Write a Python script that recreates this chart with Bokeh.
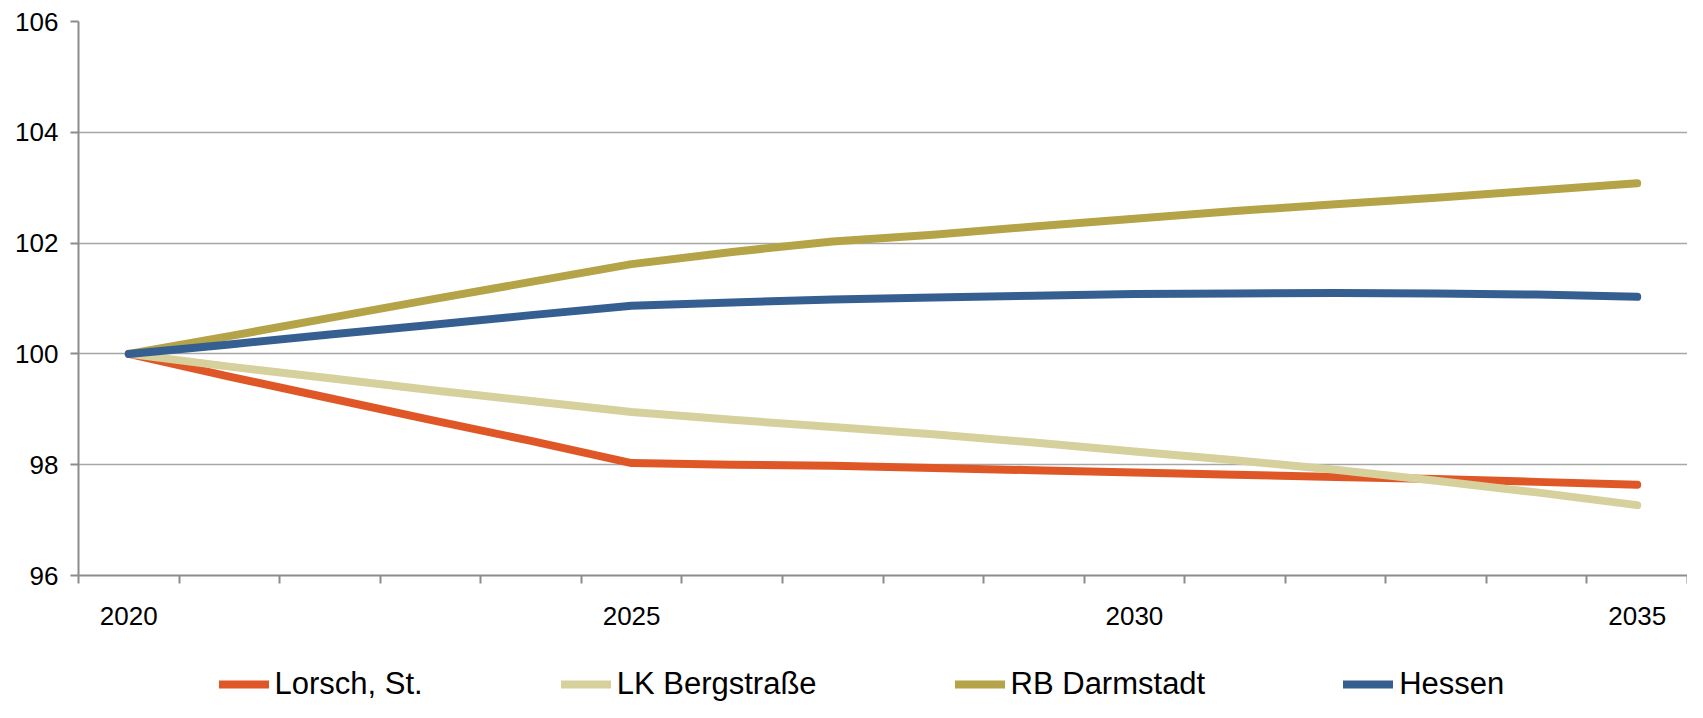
from bokeh.plotting import figure
from bokeh.models import Range1d, FixedTicker, Legend, LegendItem
from bokeh.layouts import column
from bokeh.embed import file_html
from bokeh.resources import INLINE

years = list(range(2020, 2036))
lorsch = [100.0, 99.59, 99.20, 98.81, 98.43, 98.03, 98.00, 97.98, 97.94, 97.90,
          97.86, 97.82, 97.78, 97.74, 97.69, 97.64]
lk_bergstrasse = [100.0, 99.77, 99.56, 99.35, 99.15, 98.95, 98.81, 98.68, 98.55, 98.40,
                  98.24, 98.08, 97.91, 97.71, 97.50, 97.27]
rb_darmstadt = [100.0, 100.32, 100.65, 100.98, 101.30, 101.62, 101.84, 102.03, 102.15, 102.30,
                102.44, 102.58, 102.70, 102.82, 102.95, 103.08]
hessen = [100.0, 100.17, 100.35, 100.52, 100.70, 100.87, 100.93, 100.98, 101.02, 101.05,
          101.08, 101.09, 101.10, 101.09, 101.07, 101.03]

series_names = ["Lorsch, St.", "LK Bergstraße", "RB Darmstadt", "Hessen"]
series_values = [lorsch, lk_bergstrasse, rb_darmstadt, hessen]
colors = ["#DF5726", "#D6D09C", "#B5A447", "#365F91"]

y_ticks = [96, 98, 100, 102, 104, 106]
x_label_years = [2020, 2025, 2030, 2035]

FONT = "'Liberation Sans Narrow', 'Arial Narrow', 'Liberation Sans', Arial, sans-serif"
LINE_W = 8

p = figure(width=1687, height=640, output_backend="svg", toolbar_location=None,
           x_range=Range1d(years[0] - 0.5, years[-1] + 0.5),
           y_range=Range1d(96, 106),
           min_border_left=78, min_border_right=0, min_border_top=21, min_border_bottom=65)
p.outline_line_color = None
p.background_fill_color = "white"
p.border_fill_color = "white"

# x axis
xa = p.xaxis[0]
xa.ticker = FixedTicker(ticks=x_label_years, minor_ticks=[y - 0.5 for y in years] + [years[-1] + 0.5])
xa.axis_line_color = "#8C8C8C"
xa.axis_line_width = 2
xa.major_tick_out = 0
xa.major_tick_in = 0
xa.minor_tick_out = 8
xa.minor_tick_in = 0
xa.minor_tick_line_color = "#8C8C8C"
xa.minor_tick_line_width = 2
xa.major_label_standoff = 23
xa.major_label_text_font = FONT
xa.major_label_text_font_size = "26px"
xa.major_label_text_color = "black"
p.xgrid.visible = False

# y axis
ya = p.yaxis[0]
ya.ticker = FixedTicker(ticks=y_ticks, minor_ticks=[])
ya.axis_line_color = "#8C8C8C"
ya.axis_line_width = 2
ya.major_tick_out = 8
ya.major_tick_in = 0
ya.major_tick_line_color = "#8C8C8C"
ya.major_tick_line_width = 2
ya.minor_tick_out = 0
ya.minor_tick_in = 0
ya.major_label_standoff = 12
ya.major_label_text_font = FONT
ya.major_label_text_font_size = "26px"
ya.major_label_text_color = "black"
p.ygrid.grid_line_color = "#A6A6A6"
p.ygrid.grid_line_width = 1.5

for name, vals, col in zip(series_names, series_values, colors):
    p.line(years, vals, line_color=col, line_width=LINE_W, line_cap="round", line_join="round")

# legend strip below the chart (frame fills the whole strip; series lie outside its view)
pl = figure(width=1687, height=62, output_backend="svg", toolbar_location=None,
            x_range=Range1d(0, 1), y_range=Range1d(0, 1),
            x_axis_type=None, y_axis_type=None,
            min_border_left=0, min_border_right=0, min_border_top=0, min_border_bottom=0)
pl.outline_line_color = None
pl.xgrid.visible = False
pl.ygrid.visible = False
pl.background_fill_color = "white"
pl.border_fill_color = "white"

legend_renderers = []
for name, vals, col in zip(series_names, series_values, colors):
    r = pl.line(years, vals, line_color=col, line_width=LINE_W, line_cap="round")
    legend_renderers.append(r)

legend = Legend(items=[LegendItem(label=n, renderers=[r]) for n, r in zip(series_names, legend_renderers)],
                location=(140.5, 0), orientation="horizontal",
                padding=0, margin=0, spacing=138,
                glyph_width=50, glyph_height=36, label_height=36,
                label_standoff=6,
                label_text_font=FONT, label_text_font_size="31px",
                label_text_color="black",
                border_line_alpha=0, background_fill_alpha=0)
pl.add_layout(legend, "center")

layout = column(p, pl, spacing=0)
open("out.html", "w").write(file_html(layout, INLINE))
